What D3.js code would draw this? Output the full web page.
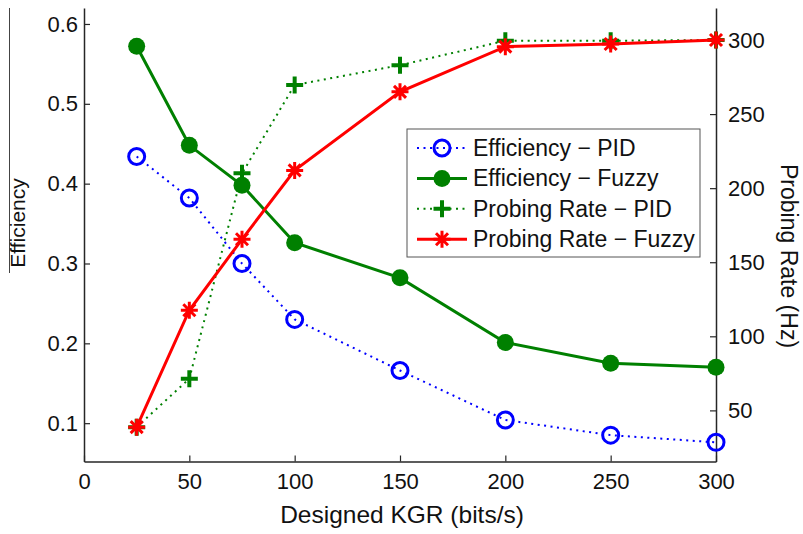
<!DOCTYPE html>
<html>
<head>
<meta charset="utf-8">
<script src="https://cdn.jsdelivr.net/npm/d3@7"></script>
<style>
    body { margin: 0; background: #fff; }
    svg { display: block; font-family: "Liberation Sans", Arial, sans-serif; }
</style>
</head>
<body>
<div id="chart"></div>
<script>
const kgr = [25, 50, 75, 100, 150, 200, 250, 300];
const effPID = [0.434, 0.382, 0.300, 0.230, 0.166, 0.104, 0.085, 0.076];
const effFuzzy = [0.572, 0.448, 0.398, 0.326, 0.282, 0.201, 0.175, 0.170];
const ratePID = [38.7, 71.4, 210, 269.6, 283, 299.5, 299.5, 300];
const rateFuzzy = [38.7, 117.6, 165.5, 212, 265, 295.5, 297.3, 300];

const xTicks = [0, 50, 100, 150, 200, 250, 300];
const effTicks = [0.1, 0.2, 0.3, 0.4, 0.5, 0.6];
const rateTicks = [50, 100, 150, 200, 250, 300];

const seriesNames = ["Efficiency \u2212 PID", "Efficiency \u2212 Fuzzy", "Probing Rate \u2212 PID", "Probing Rate \u2212 Fuzzy"];

const height = 534,
    width = 803,
    margin = ({top: 8, right: 87, bottom: 72.5, left: 84});

const svg = d3.select("#chart")
    .append("svg")
    .attr("width", width)
    .attr("height", height)
    .attr("viewBox", [0, 0, width, height]);

let x = d3.scaleLinear()
    .domain([0, 300])
    .range([margin.left, width - margin.right]);

let yEff = d3.scaleLinear()
    .domain([0.052, 0.62])
    .range([height - margin.bottom, margin.top]);

let yRate = d3.scaleLinear()
    .domain([15.5, 321.6])
    .range([height - margin.bottom, margin.top]);

const axisColor = "#262626";

const xAxis = g => g
    .attr("transform", `translate(0,${height - margin.bottom})`)
    .call(d3.axisBottom(x).tickValues(xTicks).tickSize(-6).tickSizeOuter(0).tickPadding(12));

const yAxisLeft = g => g
    .attr("transform", `translate(${margin.left},0)`)
    .call(d3.axisLeft(yEff).tickValues(effTicks).tickFormat(d3.format(".1f"))
        .tickSize(-6).tickSizeOuter(0).tickPadding(6));

const yAxisRight = g => g
    .attr("transform", `translate(${width - margin.right},0)`)
    .call(d3.axisRight(yRate).tickValues(rateTicks).tickSize(-6).tickSizeOuter(0).tickPadding(12));

for (let ax of [xAxis, yAxisLeft, yAxisRight]) {
    let g = svg.append("g").call(ax);
    g.attr("font-size", 22).attr("font-family", null).attr("color", axisColor);
    g.select(".domain").attr("stroke-width", 1.5);
    g.selectAll(".tick line").attr("stroke-width", 1.2);
    g.selectAll(".tick text").attr("fill", "#111");
}

// thin frame remnant on the left edge
svg.append("line")
    .attr("x1", 9.5).attr("x2", 9.5)
    .attr("y1", margin.top).attr("y2", 273)
    .attr("stroke", "#444").attr("stroke-width", 1);

// axis titles
svg.append("text")
    .attr("x", 402)
    .attr("y", 523)
    .attr("text-anchor", "middle")
    .attr("font-size", 24.5)
    .attr("fill", "#111")
    .text("Designed KGR (bits/s)");

svg.append("text")
    .attr("transform", "translate(25,223) rotate(-90)")
    .attr("text-anchor", "middle")
    .attr("font-size", 21)
    .attr("fill", "#111")
    .text("Efficiency");

svg.append("text")
    .attr("transform", "translate(781,256) rotate(90)")
    .attr("text-anchor", "middle")
    .attr("font-size", 23)
    .attr("fill", "#111")
    .text("Probing Rate (Hz)");

// marker shapes
const plusPath = s => `M${-s},0H${s}M0,${-s}V${s}`;
const starPath = s => {
    let d = plusPath(s);
    let k = s * Math.SQRT1_2;
    return d + `M${-k},${-k}L${k},${k}M${-k},${k}L${k},${-k}`;
};

const series = [
    {name: seriesNames[0], values: effPID, y: yEff, color: "#0000ff", width: 2, dash: "2,4.5", marker: "circle"},
    {name: seriesNames[1], values: effFuzzy, y: yEff, color: "#008000", width: 3, dash: null, marker: "dot"},
    {name: seriesNames[2], values: ratePID, y: yRate, color: "#008000", width: 2, dash: "2,4.5", marker: "plus"},
    {name: seriesNames[3], values: rateFuzzy, y: yRate, color: "#ff0000", width: 3, dash: null, marker: "star"}
];

function drawMarker(g, type, color) {
    if (type === "circle") {
        g.append("circle").attr("r", 8).attr("fill", "none")
            .attr("stroke", color).attr("stroke-width", 3);
    } else if (type === "dot") {
        g.append("circle").attr("r", 8.5).attr("fill", color);
    } else if (type === "plus") {
        g.append("path").attr("d", plusPath(8.5)).attr("fill", "none")
            .attr("stroke", color).attr("stroke-width", 4);
    } else {
        g.append("path").attr("d", starPath(8.5)).attr("fill", "none")
            .attr("stroke", color).attr("stroke-width", 3);
    }
}

for (let s of series) {
    let line = d3.line()
        .x((d, i) => x(kgr[i]))
        .y(d => s.y(d));

    svg.append("path")
        .datum(s.values)
        .attr("fill", "none")
        .attr("stroke", s.color)
        .attr("stroke-width", s.width)
        .attr("stroke-dasharray", s.dash)
        .attr("d", line);

    svg.selectAll(null)
        .data(s.values)
        .join("g")
        .attr("transform", (d, i) => `translate(${x(kgr[i])},${s.y(d)})`)
        .each(function () { drawMarker(d3.select(this), s.marker, s.color); });
}

// legend
const legend = svg.append("g").attr("transform", "translate(407,129)");

legend.append("rect")
    .attr("width", 293)
    .attr("height", 128)
    .attr("fill", "#fff")
    .attr("stroke", "#555")
    .attr("stroke-width", 1);

let row = legend.selectAll(".row")
    .data(series)
    .join("g")
    .attr("class", "row")
    .attr("transform", (d, i) => `translate(0,${19 + i * 30.4})`);

row.append("line")
    .attr("x1", 10).attr("x2", 60)
    .attr("stroke", d => d.color)
    .attr("stroke-width", d => d.width)
    .attr("stroke-dasharray", d => d.dash);

row.append("g")
    .attr("transform", "translate(35,0)")
    .each(function (d) { drawMarker(d3.select(this), d.marker, d.color); });

row.append("text")
    .attr("x", 66)
    .attr("dy", "0.35em")
    .attr("font-size", 23)
    .attr("fill", "#111")
    .text(d => d.name);
</script>
</body>
</html>
